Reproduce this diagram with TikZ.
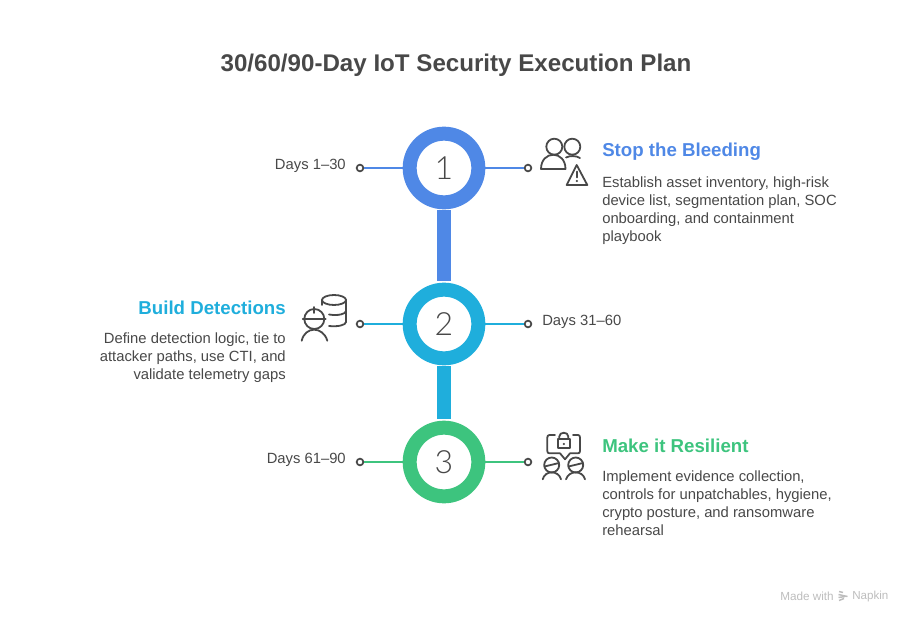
\documentclass[tikz,border=0pt]{standalone}
\usepackage{fontspec}
\setmainfont{Liberation Sans}
\newfontfamily\numfont[UprightFont=* Light,Numbers=Lining]{Lato}
\definecolor{stepblue}{HTML}{4F88E6}
\definecolor{stepcyan}{HTML}{1FAEDC}
\definecolor{stepgreen}{HTML}{3DC47E}
\definecolor{inkgray}{HTML}{484848}
\definecolor{markgray}{HTML}{BDBDBD}
\tikzset{
  ring/.style={circle,line width=10.5pt,draw=#1,fill=white,minimum size=51.5pt,inner sep=0pt,text=inkgray,font=\numfont\fontsize{24}{24}\selectfont},
  dot/.style={circle,draw=inkgray,fill=white,line width=1.3pt,minimum size=5pt,inner sep=0pt},
  lead/.style={draw=#1,line width=1.2pt},
  head/.style={font=\bfseries\fontsize{14}{16}\selectfont,text=#1,inner sep=0pt},
  body/.style={font=\fontsize{11.1}{13.5}\selectfont,text=inkgray,inner sep=0pt},
  icon/.style={draw=inkgray,line width=1.35pt,line cap=round,line join=round},
}
\begin{document}
\begin{tikzpicture}[x=0.75pt,y=-0.75pt]
\useasboundingbox (0,0) rectangle (912,624);
\node[font=\bfseries\fontsize{18.1}{20}\selectfont,text=inkgray,inner sep=0pt] (title) at (456,65) {30/60/90-Day IoT Security Execution Plan};
% bars
\fill[stepblue] (437,210) rectangle (451,281);
\fill[stepcyan] (437,366) rectangle (451,419);
% rings
\node[ring=stepblue] (one) at (444,168) {1};
\node[ring=stepcyan] (two) at (444,324) {2};
\node[ring=stepgreen] (three) at (444,462) {3};
% leads
\node[dot] (oneL) at (360,168) {}; \node[dot] (oneR) at (528,168) {};
\node[dot] (twoL) at (360,324) {}; \node[dot] (twoR) at (528,324) {};
\node[dot] (threeL) at (360,462) {}; \node[dot] (threeR) at (528,462) {};
\draw[lead=stepblue] (oneL)--(one); \draw[lead=stepblue] (one)--(oneR);
\draw[lead=stepcyan] (twoL)--(two); \draw[lead=stepcyan] (two)--(twoR);
\draw[lead=stepgreen] (threeL)--(three); \draw[lead=stepgreen] (three)--(threeR);
% days
\node[body,anchor=east] (daysA) at (346,165.5) {Days 1–30};
\node[body,anchor=west] (daysB) at (542,321.5) {Days 31–60};
\node[body,anchor=east] (daysC) at (346,459.5) {Days 61–90};
% texts
\node[head=stepblue,anchor=west] (stopT) at (602,152) {Stop the Bleeding};
\node[body,anchor=north west,align=left] (stopB) at (602,177) {Establish asset inventory, high-risk\\device list, segmentation plan, SOC\\onboarding, and containment\\playbook};
\node[head=stepcyan,anchor=east] (buildT) at (286,308) {Build Detections};
\node[body,anchor=north east,align=right] (buildB) at (286,333) {Define detection logic, tie to\\attacker paths, use CTI, and\\validate telemetry gaps};
\node[head=stepgreen,anchor=west] (makeT) at (602,446) {Make it Resilient};
\node[body,anchor=north west,align=left] (makeB) at (602,471) {Implement evidence collection,\\controls for unpatchables, hygiene,\\crypto posture, and ransomware\\rehearsal};
% icon people and warning
\draw[icon] (554.3,146.7) circle [radius=8];
\draw[icon] (572.3,146.7) circle [radius=8];
\draw[icon] (541,169) .. controls (541,150) and (565.5,150) .. (565.5,169) -- cycle;
\draw[icon] (566,157.5) .. controls (570,155.5) and (576,155.5) .. (580,158);
\draw[icon] (576.7,165) -- (566.7,185) -- (587.3,185) -- cycle;
\draw[icon] (576.8,171.5) -- (576.8,177.5);
\fill[inkgray] (576.8,181) circle [radius=1.2];
% icon worker and database
\draw[icon] (334,300) ellipse [x radius=12,y radius=5];
\draw[icon] (346,300) -- (346,322) .. controls (346,325) and (338,327) .. (329,326);
\draw[icon] (346,311) .. controls (346,314) and (338,316) .. (329,314.5);
\draw[icon] (322,300) -- (322,305);
\draw[icon] (314.3,319) circle [radius=10];
\draw[icon] (302.7,319) -- (325.7,319);
\draw[icon] (314.3,307) -- (314.3,313);
\draw[icon] (301.7,340.7) .. controls (305,326) and (323,326) .. (327.3,340.7);
% icon lock and people
\draw[icon] (555,435) -- (549.5,435) .. controls (548,435) and (547.3,436) .. (547.3,437.5) -- (547.3,451) .. controls (547.3,452.5) and (548,453.3) .. (549.5,453.3) -- (560,453.3) -- (565,459.3) -- (570,453.3) -- (578,453.3) .. controls (579.3,453.3) and (580,452.5) .. (580,451) -- (580,437.5) .. controls (580,436) and (579.3,435) .. (578,435) -- (573,435);
\draw[icon] (557.7,439.3) rectangle (570,448.3);
\draw[icon] (559.3,439) -- (559.3,436.5) .. controls (559.3,431.5) and (568.3,431.5) .. (568.3,436.5) -- (568.3,439);
\fill[inkgray] (563.8,444) circle [radius=1.2];
\draw[icon] (551.7,465) circle [radius=7.5];
\draw[icon] (544.5,466.5) -- (559,463);
\draw[icon] (542.7,479.3) .. controls (545,470) and (558.5,470) .. (561,479.3);
\draw[icon] (575.7,465) circle [radius=7.5];
\draw[icon] (568.5,466.5) -- (583,463);
\draw[icon] (566,479.3) .. controls (569,470) and (582.5,470) .. (585,479.3);
% mark
\node[anchor=west,text=markgray,inner sep=0pt,font=\fontsize{8.8}{10}\selectfont] (madeT) at (780,596.5) {Made with};
\node[anchor=west,text=markgray,inner sep=0pt,font=\fontsize{8.7}{10}\selectfont] (napT) at (852,596.5) {Napkin};
\draw[markgray,line width=1.1pt] (839,591.5) -- (843,592.5) (838.5,594.5) -- (847.5,596.5) (838.5,597.5) -- (845,596.5) (839,600.5) -- (844,598.5);
\end{tikzpicture}
\end{document}
